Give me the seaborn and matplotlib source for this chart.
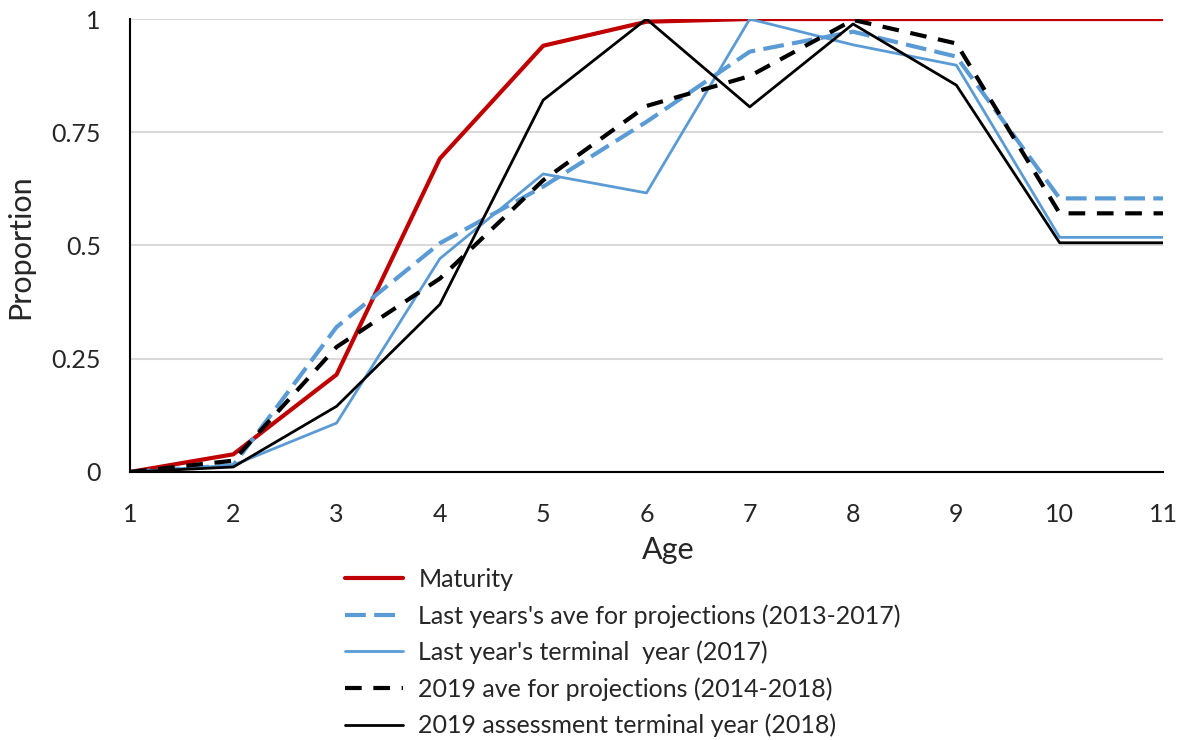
import pandas as pd
import seaborn as sns
import matplotlib.pyplot as plt

ages = [1, 2, 3, 4, 5, 6, 7, 8, 9, 10, 11]

maturity = [0.0, 0.039, 0.215, 0.692, 0.941, 0.994, 1.0, 1.0, 1.0, 1.0, 1.0]
last_ave = [0.0, 0.015, 0.32, 0.505, 0.63, 0.773, 0.928, 0.972, 0.917, 0.604, 0.604]
last_term = [0.0, 0.015, 0.108, 0.471, 0.658, 0.616, 1.0, 0.943, 0.898, 0.518, 0.518]
new_ave = [0.0, 0.025, 0.276, 0.427, 0.644, 0.808, 0.874, 0.998, 0.946, 0.571, 0.571]
new_term = [0.0, 0.011, 0.145, 0.370, 0.821, 1.0, 0.806, 0.989, 0.854, 0.506, 0.506]

labels = [
    "Maturity",
    "Last years's ave for projections (2013-2017)",
    "Last year's terminal  year (2017)",
    "2019 ave for projections (2014-2018)",
    "2019 assessment terminal year (2018)",
]
series = [maturity, last_ave, last_term, new_ave, new_term]
colors = ["#c00000", "#5b9bd5", "#5b9bd5", "black", "black"]
styles = ["-", (0, (5, 2)), "-", (0, (4, 2.8)), "-"]
widths = [3.0, 3.0, 2.0, 3.0, 2.0]

df = pd.DataFrame({
    "Age": ages * len(series),
    "Proportion": [v for s in series for v in s],
    "series": [lab for lab, s in zip(labels, series) for _ in s],
})

sns.set_style("white")
plt.rcParams["font.family"] = ["Lato", "DejaVu Sans"]

fig = plt.figure(figsize=(11.85, 7.4), dpi=100)
ax = fig.add_axes([0.1097, 0.3622, 0.8717, 0.6121])

for lab, c, ls, lw in zip(labels, colors, styles, widths):
    sns.lineplot(
        data=df[df["series"] == lab],
        x="Age",
        y="Proportion",
        color=c,
        linestyle=ls,
        linewidth=lw,
        label=lab,
        ax=ax,
        legend=False,
    )

ax.set_xlim(1, 11)
ax.set_ylim(0, 1)
ax.set_xticks(ages)
ax.set_yticks([0, 0.25, 0.5, 0.75, 1])
ax.set_yticklabels(["0", "0.25", "0.5", "0.75", "1"])
ax.yaxis.grid(True, color="#d9d9d9", linewidth=1.5)
ax.set_axisbelow(True)
for side in ["top", "right"]:
    ax.spines[side].set_visible(False)
for side in ["left", "bottom"]:
    ax.spines[side].set_color("black")
    ax.spines[side].set_linewidth(1.5)
ax.tick_params(axis="x", direction="out", length=7, width=1.5, labelsize=18, pad=15)
ax.tick_params(axis="y", length=0, labelsize=18, pad=21)

ax.set_xlabel("Age", fontsize=22)
ax.xaxis.label.set_va("center")
ax.xaxis.set_label_coords(0.521, -0.172)
ax.set_ylabel("Proportion", fontsize=22)
ax.yaxis.label.set_va("center")
ax.yaxis.set_label_coords(-0.1065, 0.497)

handles, labs = ax.get_legend_handles_labels()
fig.legend(
    handles, labs,
    loc="upper left",
    bbox_to_anchor=(0.283, 0.246),
    frameon=False,
    fontsize=18,
    handlelength=2.32,
    handletextpad=0.6,
    labelspacing=0.52,
    borderaxespad=0,
)

fig.savefig("out.png", dpi=100)
